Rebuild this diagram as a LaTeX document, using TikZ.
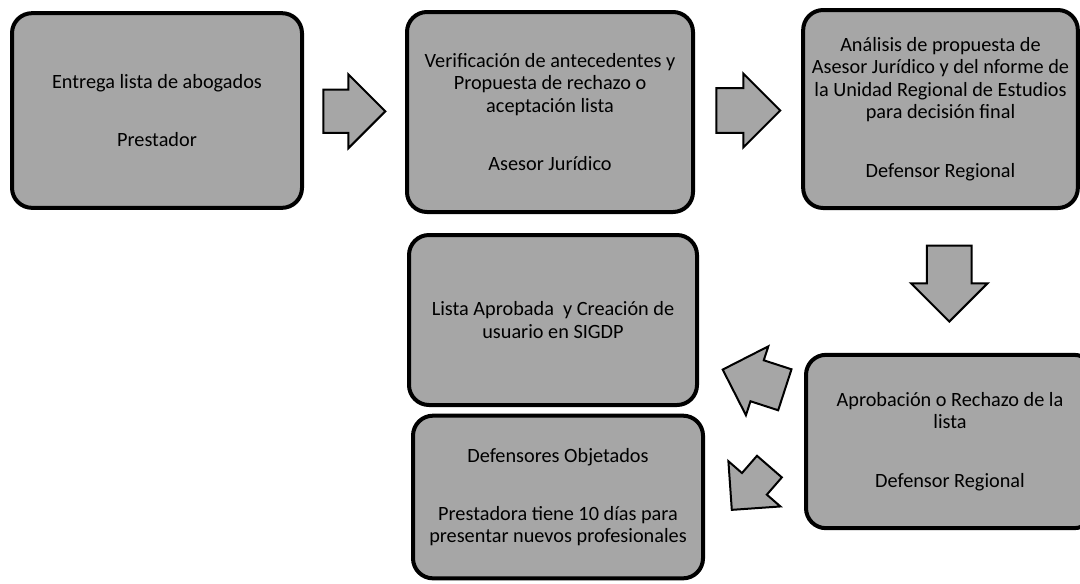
\documentclass[tikz,border=0pt]{standalone}
\usepackage{fontspec}
\setmainfont{Carlito}
\usepackage{tikz}
\usetikzlibrary{calc,shapes.arrows}

\begin{document}
\begin{tikzpicture}[
    x=0.75pt, y=-0.75pt,
    every node/.style={font=\fontsize{15.2}{16.8}\selectfont},
    stage/.style={draw, line width=3pt, rounded corners=15pt, fill=black!35, align=center, inner sep=3pt},
    flecha/.style={draw, line width=1.5pt, fill=black!35, single arrow, inner xsep=0pt, anchor=center}
]
\useasboundingbox (0,0) rectangle (1080,583);
\fill[white] (0,0) rectangle (1080,583);

\node[stage, minimum width=217.5pt, minimum height=146pt] (entrega) at (157,110.5)
    {Entrega lista de abogados\\[27pt]Prestador};
\node[stage, minimum width=214.5pt, minimum height=150pt] (verif) at (550,112)
    {Verificación de antecedentes y\\Propuesta de rechazo o\\aceptación lista\\[27pt]Asesor Jurídico};
\node[stage, minimum width=206pt, minimum height=148.5pt] (analisis) at (940.5,109)
    {Análisis de propuesta de\\Asesor Jurídico y del nforme de\\la Unidad Regional de Estudios\\para decisión final\\[27pt]Defensor Regional};
\node[stage, minimum width=216pt, minimum height=130pt] (aprob) at (950,441.5)
    {Aprobación o Rechazo de la\\lista\\[27pt]Defensor Regional};
\node[stage, minimum width=216pt, minimum height=127.5pt] (lista) at (553,320)
    {Lista Aprobada\ \ y Creación de\\usuario en SIGDP};
\node[stage, minimum width=217.5pt, minimum height=122pt] (objet) at (558,497)
    {Defensores Objetados\\[27pt]Prestadora tiene 10 días para\\presentar nuevos profesionales};

\node[flecha, minimum height=46.5pt, inner ysep=15.5pt, single arrow head extend=11.5pt]
    (f1) at ($(entrega.east)!0.5!(verif.west)+(-11,0)$) {};
\node[flecha, minimum height=48pt, inner ysep=16pt, single arrow head extend=11pt]
    (f2) at ($(verif.east)!0.5!(analisis.west)+(-11,0)$) {};
\node[flecha, minimum height=57pt, inner ysep=16pt, single arrow head extend=12pt, rotate=-90]
    (f3) at ($(analisis.south)!0.5!(aprob.north)+(4,-9)$) {};
\node[flecha, minimum height=49pt, inner ysep=15.4pt, single arrow head extend=11pt, rotate=162]
    (f4) at (764,383) {};
\node[flecha, minimum height=43pt, inner ysep=11.6pt, single arrow head extend=13.5pt, rotate=229]
    (f5) at (756,482) {};
\end{tikzpicture}
\end{document}
